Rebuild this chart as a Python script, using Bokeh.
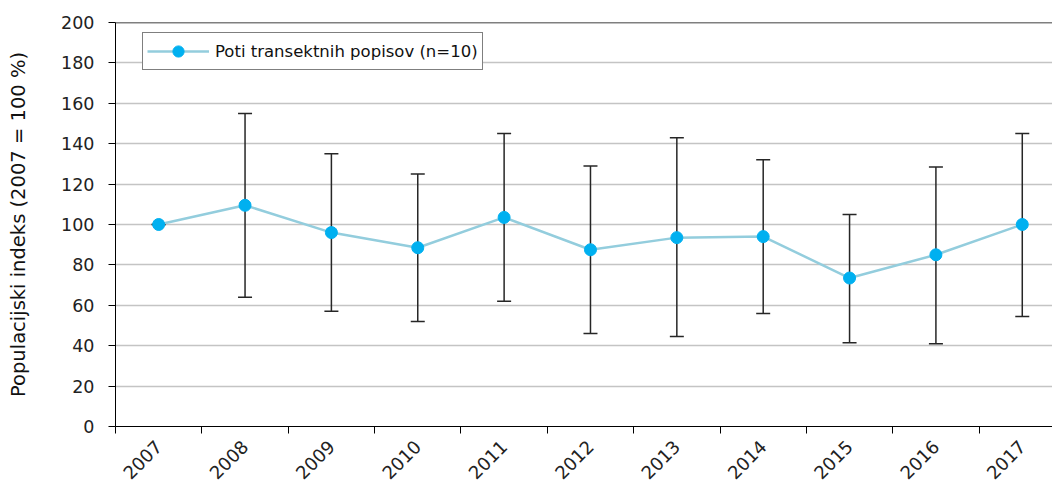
import math
from bokeh.plotting import figure
from bokeh.models import (ColumnDataSource, Range1d, FixedTicker, Whisker, TeeHead,
                          Span, Legend, LegendItem)
from bokeh.embed import file_html
from bokeh.resources import INLINE

# Population index of butterfly transect counts, 2007 = 100 %
years = ["2007", "2008", "2009", "2010", "2011", "2012", "2013", "2014", "2015", "2016", "2017"]
index_mean = [100, 109.5, 96, 88.5, 103.5, 87.5, 93.5, 94, 73.5, 85, 100]
ci_upper = [100, 155, 135, 125, 145, 129, 143, 132, 105, 128.5, 145]
ci_lower = [100, 64, 57, 52, 62, 46, 44.5, 56, 41.5, 41, 54.5]
y_ticks = [0, 20, 40, 60, 80, 100, 120, 140, 160, 180, 200]
series_name = "Poti transektnih popisov (n=10)"
y_title = "Populacijski indeks (2007 = 100 %)"

FONT = "DejaVu Sans"
xs = list(range(len(years)))
src = ColumnDataSource(dict(x=xs, mean=index_mean, upper=ci_upper, lower=ci_lower))

p = figure(width=1052, height=488, output_backend="svg", toolbar_location=None,
           x_range=Range1d(-0.5, 10.35), y_range=Range1d(0, 200),
           min_border_left=115, min_border_right=0, min_border_top=22, min_border_bottom=62)
p.outline_line_color = None
p.background_fill_color = "white"
p.border_fill_color = "white"

# grid
p.xgrid.grid_line_color = None
p.ygrid.grid_line_color = "#c4c4c4"
p.ygrid.grid_line_width = 1.3
p.ygrid.ticker = FixedTicker(ticks=y_ticks)

# y axis
p.yaxis.ticker = FixedTicker(ticks=y_ticks)
p.yaxis.axis_label = y_title
p.yaxis.axis_label_text_font = FONT
p.yaxis.axis_label_text_font_size = "19.5px"
p.yaxis.axis_label_text_font_style = "normal"
p.yaxis.axis_label_text_color = "#111111"
p.yaxis.axis_label_standoff = 28
p.yaxis.major_label_text_font = FONT
p.yaxis.major_label_text_font_size = "17.5px"
p.yaxis.major_label_text_color = "#222222"
p.yaxis.major_tick_in = 0
p.yaxis.major_tick_out = 7
p.yaxis.minor_tick_line_color = None
p.yaxis.axis_line_color = "black"
p.yaxis.major_tick_line_color = "black"
p.yaxis.major_label_standoff = 14

# x axis: labels at category centres, tick marks at category boundaries
p.xaxis.ticker = FixedTicker(ticks=xs, minor_ticks=[i - 0.5 for i in xs])
p.xaxis.major_label_overrides = {i: y for i, y in zip(xs, years)}
p.xaxis.major_label_orientation = math.pi / 4
p.xaxis.major_label_text_font = FONT
p.xaxis.major_label_text_font_size = "18px"
p.xaxis.major_label_text_color = "#222222"
p.xaxis.major_tick_line_color = None
p.xaxis.major_tick_in = 0
p.xaxis.major_tick_out = 0
p.xaxis.minor_tick_in = 0
p.xaxis.minor_tick_out = 7
p.xaxis.minor_tick_line_color = "black"
p.xaxis.axis_line_color = "black"
p.xaxis.major_label_standoff = 10

# top border line
p.add_layout(Span(location=200, dimension="width", line_color="black", line_width=1.5))

# error bars
whisk = Whisker(base="x", upper="upper", lower="lower", source=src, dimension="height",
                line_color="#262626", line_width=1.5,
                upper_head=TeeHead(size=14, line_color="#262626", line_width=1.5),
                lower_head=TeeHead(size=14, line_color="#262626", line_width=1.5))
p.add_layout(whisk)

ln = p.line("x", "mean", source=src, line_color="#93cddd", line_width=2.5)
pts = p.scatter("x", "mean", source=src, size=12, fill_color="#00b0f0", line_color="#00b0f0")

legend = Legend(items=[LegendItem(label=series_name, renderers=[ln, pts])],
                location=(27, 356), border_line_color="black", border_line_width=1,
                label_text_font=FONT, label_text_font_size="16.5px", label_text_color="#111111",
                glyph_width=62, glyph_height=28, label_standoff=6,
                padding=4, margin=0, spacing=0, background_fill_alpha=1)
p.add_layout(legend)

open("out.html", "w").write(file_html(p, INLINE))
